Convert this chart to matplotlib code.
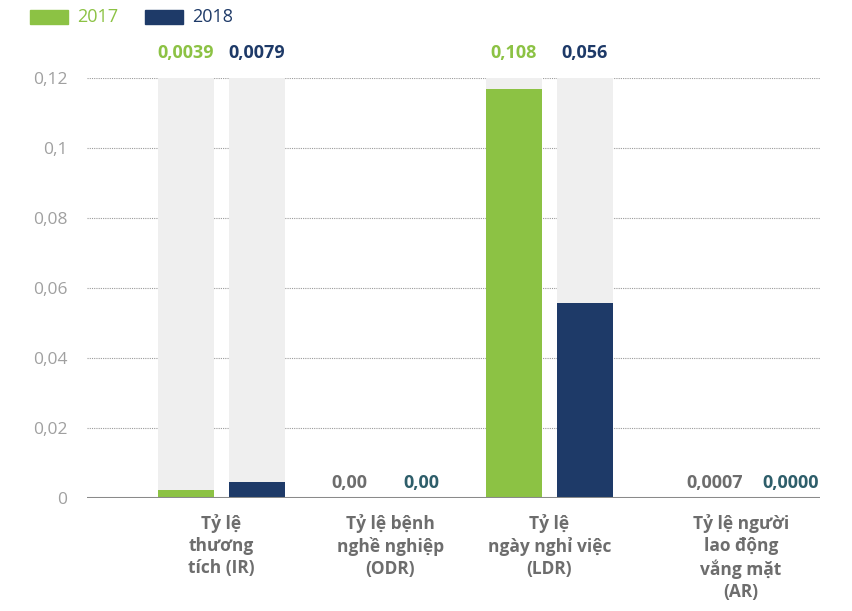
import numpy as np
import matplotlib
matplotlib.use('Agg')
import matplotlib.pyplot as plt

plt.rcParams['font.family'] = ['Open Sans', 'DejaVu Sans']

# data
categories = ['Tỷ lệ\nthương\ntích (IR)', 'Tỷ lệ bệnh\nnghề nghiệp\n(ODR)',
              'Tỷ lệ\nngày nghỉ việc\n(LDR)', 'Tỷ lệ người\nlao động\nvắng mặt\n(AR)']
years = ['2017', '2018']
bars_2017 = [0.0023, 0.0, 0.117, 0.0]
bars_2018 = [0.0046, 0.0, 0.0557, 0.0]
labels_2017 = ['0,0039', '0,00', '0,108', '0,0007']
labels_2018 = ['0,0079', '0,00', '0,056', '0,0000']
yticks = [0, 0.02, 0.04, 0.06, 0.08, 0.1, 0.12]
ytick_labels = ['0', '0,02', '0,04', '0,06', '0,08', '0,1', '0,12']
bg_top = 0.12

GREEN = '#8cc244'
NAVY = '#1e3a68'
GRAY_BG = '#efefef'
TEAL = '#2e5e6a'

fig = plt.figure(figsize=(8.53, 6.11), dpi=100)
ax = fig.add_axes([0.102, 0.185, 0.859, 0.687])

x = np.arange(len(categories))
w = 0.34
off = 0.217

# light background columns only where bars are visible
for i in [0, 2]:
    ax.bar(x[i] - off, bg_top, w, color=GRAY_BG, zorder=1)
    ax.bar(x[i] + off, bg_top, w, color=GRAY_BG, zorder=1)

ax.bar(x - off, bars_2017, w, color=GREEN, zorder=2)
ax.bar(x + off, bars_2018, w, color=NAVY, zorder=2)

ax.set_xlim(-0.82, 3.65)
ax.set_ylim(0, 0.12)

for y in yticks[1:]:
    ax.axhline(y, color='#9a9a9a', lw=0.8, ls=(0, (1, 1)), zorder=0)
ax.axhline(0, color='#8a8a8a', lw=2.2, zorder=3)

ax.set_yticks(yticks)
ax.set_yticklabels(ytick_labels, color='#a0a0a0', fontsize=12.5)
ax.tick_params(axis='y', length=0, pad=14)
ax.set_xticks([])
for s in ax.spines.values():
    s.set_visible(False)

# value labels
label_shift = [0, 0, 0, 0.225]
label_y = [0.1245, 0.0016, 0.1245, 0.0016]
col_2017 = [GREEN, '#6d6d6d', GREEN, '#6d6d6d']
col_2018 = [NAVY, TEAL, NAVY, TEAL]
for i in range(len(categories)):
    ax.text(x[i] - off + label_shift[i], label_y[i], labels_2017[i], ha='center', va='bottom',
            fontsize=13, fontweight='bold', color=col_2017[i], clip_on=False)
    ax.text(x[i] + off + label_shift[i] + (0.03 if i == 3 else 0), label_y[i], labels_2018[i],
            ha='center', va='bottom', fontsize=13, fontweight='bold', color=col_2018[i],
            clip_on=False)

# category labels
cat_shift = [0, 0.03, 0, 0.17]
for i, c in enumerate(categories):
    ax.text(x[i] + cat_shift[i], -0.0045, c, ha='center', va='top', fontsize=12.5,
            fontweight='bold', color='#6d6d6d', linespacing=1.3, clip_on=False)

# legend
leg_cols = [GREEN, NAVY]
leg_x = [30, 145]
for yr, c, lx in zip(years, leg_cols, leg_x):
    fig.patches.append(plt.Rectangle((lx / 853, 1 - 24 / 611), 38 / 853, 14 / 611,
                                     transform=fig.transFigure, color=c))
    fig.text((lx + 47) / 853, 1 - 17 / 611, yr, color=c, fontsize=13, va='center')

fig.savefig('out.png', dpi=100)
